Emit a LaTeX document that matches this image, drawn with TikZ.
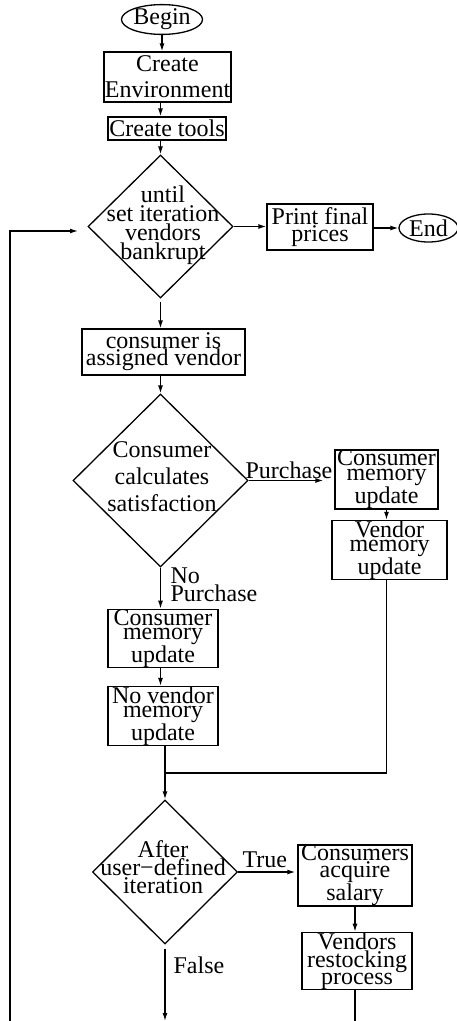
\documentclass[tikz,border=0pt]{standalone}
\usepackage{fontspec}
\setmainfont{Liberation Serif}
\usetikzlibrary{shapes.geometric,arrows.meta}
\newcommand\myfs[1]{\fontsize{24}{#1}\selectfont}
\tikzset{
  every path/.style={line width=1.3pt},
  arr/.style={-{Latex[length=8pt,width=5pt]}},
  boxnode/.style={draw, rectangle, inner sep=0pt, align=center},
  ovalnode/.style={draw, ellipse, inner sep=0pt},
  dianode/.style={draw, diamond, inner sep=0pt},
  txt/.style={inner sep=0pt, align=center},
  lbl/.style={inner sep=0pt, font=\myfs{18}, align=left}
}
\begin{document}
\begin{tikzpicture}[x=1pt,y=-1pt]
\useasboundingbox (0,0) rectangle (456,1021);
% nodes
\node[ovalnode, minimum width=70pt, minimum height=25pt, font=\myfs{26}] (begin) at (162,19.5) {Begin};
\node[boxnode, minimum width=127pt, minimum height=50pt, font=\myfs{26}] (ce) at (167.5,77) {Create\\Environment};
\node[boxnode, minimum width=118pt, minimum height=23pt, font=\myfs{26}] (ct) at (167,128.5) {Create tools};
\node[dianode, minimum width=145pt, minimum height=143pt] (d1) at (160.5,226.5) {};
\node[txt, font=\myfs{19}] (d1t) at (163,225) {until\\set iteration\\vendors\\bankrupt};
\node[boxnode, minimum width=106pt, minimum height=46pt, font=\myfs{14}] (print) at (320,227) {Print final\\prices};
\node[ovalnode, minimum width=59pt, minimum height=28pt, font=\myfs{26}] (end) at (428.5,228) {End};
\node[boxnode, minimum width=163pt, minimum height=46pt, font=\myfs{17}] (cav) at (163.5,352) {consumer is\\assigned vendor};
\node[dianode, minimum width=175pt, minimum height=173pt] (d2) at (160.5,480.5) {};
\node[txt, font=\myfs{27}] (d2t) at (162,477) {Consumer\\calculates\\satisfaction};
\node[boxnode, minimum width=103pt, minimum height=57pt, font=\myfs{15}] (cmu) at (386.5,479.5) {Consumer\\memory\\update};
\node[boxnode, minimum width=115pt, minimum height=54pt, font=\myfs{14.5}] (vmu) at (389.5,550) {Vendor\\memory\\update};
\node[boxnode, minimum width=110pt, minimum height=57pt, font=\myfs{14.5}] (cmu2) at (163,638.5) {Consumer\\memory\\update};
\node[boxnode, minimum width=110pt, minimum height=54pt, font=\myfs{14.3}] (nvmu) at (163,716) {No vendor\\memory\\update};
\node[dianode, minimum width=145pt, minimum height=144pt] (d3) at (165,872) {};
\node[txt, font=\myfs{18}] (d3t) at (163,867) {After\\user−defined\\iteration};
\node[boxnode, minimum width=114pt, minimum height=61pt, font=\myfs{17}] (cas) at (355,875.5) {Consumers\\acquire\\salary};
\node[boxnode, minimum width=110pt, minimum height=56pt, font=\myfs{14.5}] (vrp) at (357,961) {Vendors\\restocking\\process};
% labels
\node[lbl, anchor=base west] (lpur) at (245,478) {Purchase};
\node[lbl, anchor=north west] (lnop) at (170,567) {No\\Purchase};
\node[lbl, anchor=base west] (ltrue) at (242,867) {True};
\node[lbl, anchor=base west] (lfalse) at (173,973) {False};
% coordinates
\coordinate (join) at (165,773);
\coordinate (loopbot) at (10,1025);
\coordinate (loopin) at (78,231);
\coordinate (falsebot) at (165,1021);
\coordinate (vrpbot) at (355,1025);
% connectors
\draw[arr] (begin) -- (begin |- ce.north);
\draw[arr] (ce.south -| d1) -- (ct.north -| d1);
\draw[arr] (ct.south -| d1) -- (d1.north);
\draw[arr] (d1.east) -- (print.west |- d1.east);
\draw[arr] (print.east |- end) -- (end.west);
\draw[arr, shorten <=3pt] (d1.south) -- (cav.north -| d1);
\draw[arr] (cav.south -| d2) -- (d2.north);
\draw[arr, shorten >=11pt] (d2.east) -- (cmu.west |- d2.east);
\draw[arr] (cmu.south) -- (vmu.north -| cmu.south);
\draw (vmu.south -| cmu.south) |- (join);
\draw[arr] (d2.south) -- (cmu2.north -| d2);
\draw[arr] (cmu2.south -| d2) -- (nvmu.north -| d2);
\draw[arr] (nvmu.south -| d3) -- (d3.north);
\draw[arr, shorten >=2pt] (d3.east) -- (cas.west |- d3.east);
\draw[arr] (cas.south) -- (vrp.north -| cas.south);
\draw (vrp.south -| cas.south) -- (vrpbot);
\draw[arr, shorten <=4pt] (d3.south) -- (falsebot);
\draw[arr] (loopbot) |- (loopin);
\end{tikzpicture}
\end{document}
